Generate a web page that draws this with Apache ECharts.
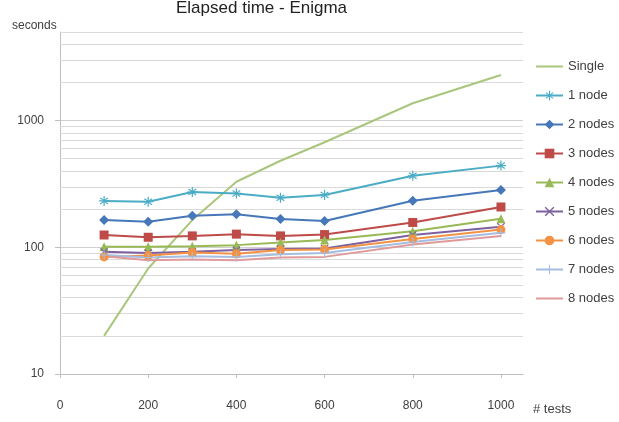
<!DOCTYPE html>
<html>
<head>
<meta charset="utf-8">
<script src="https://cdn.jsdelivr.net/npm/echarts@6/dist/echarts.min.js"></script>
<style>
  html, body { margin: 0; padding: 0; background: #fff; }
  #main { width: 619px; height: 422px; }
</style>
</head>
<body>
<div id="main"></div>
<script>
// number of tests (x values)
var tests = [100, 200, 300, 400, 500, 600, 800, 1000];

// elapsed seconds per configuration
var single  = [20, 68, 164, 329, 482, 674, 1370, 2290];
var node1   = [232, 229, 273, 266, 246, 259, 367, 441];
var nodes2  = [164, 159, 177, 182, 167, 161, 233, 283];
var nodes3  = [125, 120, 123, 127, 123, 126, 157, 208];
var nodes4  = [101, 101, 102, 104, 109, 114, 134, 168];
var nodes5  = [92, 90, 92, 95, 97, 98, 125, 145];
var nodes6  = [84, 86, 91, 89, 95, 96, 116, 138];
var nodes7  = [87, 83, 85, 84, 88, 90, 110, 130];
var nodes8  = [85, 79, 80, 79, 83, 84, 105, 123];

// minor log gridlines
var minorGrid = [20, 30, 40, 50, 60, 70, 80, 90, 200, 300, 400, 500, 600, 700, 800, 900, 2000, 3000, 4000, 5000];

var starPath = 'path://M4.4,0H5.6V3.6L8.5,1.5L9.2,2.5L6.2,4.4H10V5.6H6.2L9.2,7.5L8.5,8.5L5.6,6.4V10H4.4V6.4L1.5,8.5L0.8,7.5L3.8,5.6H0V4.4H3.8L0.8,2.5L1.5,1.5L4.4,3.6Z';
var crossPath = 'path://M1,0L5,4L9,0L10,1L6,5L10,9L9,10L5,6L1,10L0,9L4,5L0,1Z';
var plusPath = 'path://M4.4,0H5.6V4.4H10V5.6H5.6V10H4.4V5.6H0V4.4H4.4Z';

function pairs(vals) {
  return tests.map(function (t, i) { return [t, vals[i]]; });
}

function mk(name, vals, color, symbol, size) {
  return {
    name: name,
    type: 'line',
    data: pairs(vals),
    symbol: symbol,
    symbolSize: size,
    showSymbol: symbol !== 'none',
    lineStyle: { color: color, width: 2 },
    itemStyle: { color: color },
    emphasis: { disabled: true }
  };
}

var myChart = echarts.init(document.getElementById('main'));

var series = [
  mk('Single', single, '#A9C67C', 'none', 0),
  mk('1 node', node1, '#4BACC6', starPath, 10),
  mk('2 nodes', nodes2, '#4677B8', 'diamond', 10),
  mk('3 nodes', nodes3, '#BE4B48', 'rect', 9),
  mk('4 nodes', nodes4, '#98B954', 'triangle', 9),
  mk('5 nodes', nodes5, '#7D60A0', crossPath, 8),
  mk('6 nodes', nodes6, '#F39244', 'circle', 9),
  mk('7 nodes', nodes7, '#A4BDE0', plusPath, 9),
  mk('8 nodes', nodes8, '#E09A9A', 'none', 0)
];

series[0].markLine = {
  silent: true,
  z: 1,
  symbol: 'none',
  label: { show: false },
  lineStyle: { color: '#DADADA', type: 'solid', width: 1 },
  data: minorGrid.map(function (v) { return { yAxis: v }; })
};

var option = {
  animation: false,
  title: {
    text: 'Elapsed time - Enigma',
    left: 171,
    top: -5,
    textStyle: { fontFamily: 'Liberation Sans', fontSize: 17, fontWeight: 'normal', color: '#222' }
  },
  legend: {
    orient: 'vertical',
    left: 530,
    top: 55,
    itemWidth: 27,
    itemHeight: 12,
    itemGap: 16,
    textStyle: { fontFamily: 'Liberation Sans', fontSize: 13, color: '#404040' },
    data: series.map(function (s) {
      return s.symbol === 'none' ? { name: s.name, itemStyle: { opacity: 0 } } : s.name;
    })
  },
  grid: { left: 60, right: 96, top: 32, bottom: 48 },
  xAxis: {
    type: 'value',
    min: 0,
    max: 1050,
    interval: 200,
    axisLine: { lineStyle: { color: '#BFBFBF' } },
    axisTick: { show: true, length: 4, lineStyle: { color: '#BFBFBF' } },
    axisLabel: {
      showMaxLabel: false,
      margin: 26,
      formatter: function (v) { return String(v); },
      fontFamily: 'Liberation Sans', fontSize: 12, color: '#404040'
    },
    splitLine: { show: false }
  },
  yAxis: {
    type: 'log',
    logBase: 10,
    min: 10,
    max: 5000,
    axisLine: { show: true, lineStyle: { color: '#BFBFBF' } },
    axisTick: { show: true, length: 5, lineStyle: { color: '#BFBFBF' } },
    axisLabel: {
      showMaxLabel: false,
      margin: 16,
      formatter: function (v) { return String(Math.round(v)); },
      fontFamily: 'Liberation Sans', fontSize: 12, color: '#404040'
    },
    splitLine: { show: true, lineStyle: { color: '#D0D0D0' } }
  },
  graphic: [
    { type: 'text', left: 12, top: 20, style: { text: 'seconds', font: '12px "Liberation Sans"', fill: '#404040' } },
    { type: 'text', left: 533, top: 403, style: { text: '# tests', font: '13px "Liberation Sans"', fill: '#404040' } }
  ],
  series: series
};

myChart.setOption(option);
</script>
</body>
</html>
